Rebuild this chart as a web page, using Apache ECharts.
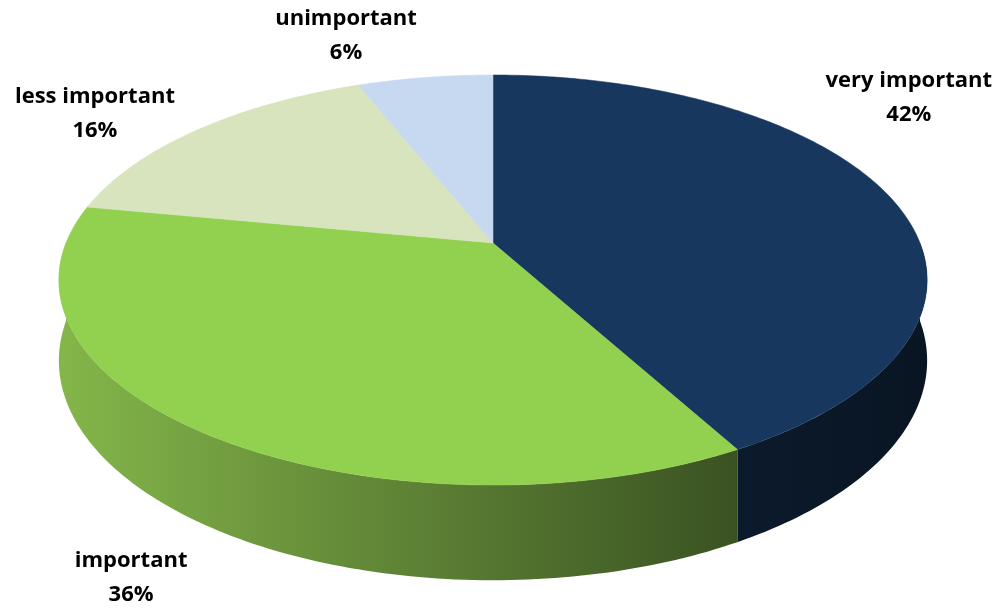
<!DOCTYPE html>
<html>
<head>
<meta charset="utf-8">
<script src="https://cdn.jsdelivr.net/npm/echarts@6/dist/echarts.min.js"></script>
<style>
  html, body { margin: 0; padding: 0; background: #ffffff; }
  #chart { width: 1003px; height: 609px; }
</style>
</head>
<body>
<div id="chart"></div>
<script>
// Survey answers, in clockwise order starting at twelve o'clock
const categories = ['very important', 'important', 'less important', 'unimportant'];
const shares = [42, 36, 16, 6];

// Slice colours: top face, and the shaded side wall (start / end of gradient)
const topColors = ['#17375E', '#92D050', '#D7E4BD', '#C6D9F1'];
const sideColors = [
  ['#0c1a2d', '#091522'],
  ['#84b64a', '#3a5222'],
  ['#b9c6a0', '#8f9a7a'],
  ['#a8bbd3', '#8496ad']
];

// Tilted-disc layout (pixels): centre, radius, thickness and perspective strength
const DISC = { cx: 493, cy: 243, rx: 427, spread: 154.5, persp: -0.1805, depth: 78 };
// Label nudges from the rim point at each slice's middle angle
const labelNudge = [[20, -98], [-68, 147], [-103, -16], [-79, -42]];

const total = shares.reduce((a, b) => a + b, 0);
const starts = [];
shares.reduce((acc, v, i) => { starts[i] = acc; return acc + v; }, 0);

// Project an angle (degrees clockwise from the far side) on the rim onto the screen
function rim(deg, r, drop) {
  const t = deg * Math.PI / 180;
  const u = r * Math.sin(t);
  const s = -r * Math.cos(t);
  const w = 1 + DISC.persp * s;
  return [
    DISC.cx + DISC.rx * u / w,
    (DISC.cy + DISC.spread * s) / w + (drop ? DISC.depth / w : 0)
  ];
}

function arcPoints(a0, a1, drop) {
  const pts = [];
  const n = Math.max(2, Math.ceil(Math.abs(a1 - a0)));
  for (let k = 0; k <= n; k++) pts.push(rim(a0 + (a1 - a0) * k / n, 1, drop));
  return pts;
}

function renderSlice(params, api) {
  const i = params.dataIndex;
  const value = api.value(0);
  const a0 = starts[i] / total * 360;
  const a1 = a0 + value / total * 360;
  const children = [];

  // Front wall: only the part facing the viewer (90°..270°)
  const f0 = Math.max(a0, 90), f1 = Math.min(a1, 270);
  if (f1 > f0) {
    const top = arcPoints(f0, f1, false);
    const bottom = arcPoints(f1, f0, true);
    const xs = top.map(p => p[0]);
    children.push({
      type: 'polygon',
      z2: 1,
      shape: { points: top.concat(bottom) },
      style: {
        fill: {
          type: 'linear', global: true,
          x: Math.min.apply(null, xs), y: 0, x2: Math.max.apply(null, xs), y2: 0,
          colorStops: [
            { offset: 0, color: sideColors[i][0] },
            { offset: 1, color: sideColors[i][1] }
          ]
        },
        stroke: null
      }
    });
  }

  // Top face of the slice
  const face = [[DISC.cx, DISC.cy]].concat(arcPoints(a0, a1, false));
  children.push({
    type: 'polygon',
    z2: 5,
    shape: { points: face },
    style: { fill: topColors[i], stroke: topColors[i], lineWidth: 0.5 }
  });

  // Category name and percentage
  const mid = rim((a0 + a1) / 2, 1, false);
  children.push({
    type: 'text',
    z2: 10,
    style: {
      text: api.value(2) + '\n' + value + '%',
      x: mid[0] + labelNudge[i][0],
      y: mid[1] + labelNudge[i][1],
      align: 'center',
      verticalAlign: 'middle',
      font: 'bold 22px "Open Sans", sans-serif',
      lineHeight: 34,
      fill: '#000000'
    }
  });

  return { type: 'group', children: children };
}

const chart = echarts.init(document.getElementById('chart'));
chart.setOption({
  animation: false,
  backgroundColor: '#ffffff',
  series: [{
    type: 'custom',
    coordinateSystem: 'none',
    renderItem: renderSlice,
    dimensions: ['share', 'index', 'name'],
    data: shares.map((v, i) => [v, i, categories[i]])
  }]
});
</script>
</body>
</html>
